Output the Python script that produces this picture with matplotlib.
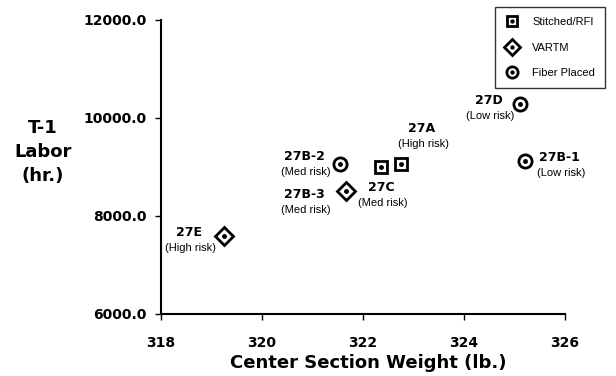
import matplotlib
matplotlib.use("Agg")
import matplotlib.pyplot as plt

plt.rcParams['font.family'] = ['Liberation Sans', 'DejaVu Sans']
WIDE = ['DejaVu Sans']

# Data
stitched_x = [322.35, 322.75]
stitched_y = [8990, 9050]
vartm_x = [319.25, 321.66]
vartm_y = [7600, 8500]
fiber_x = [321.54, 325.11, 325.22]
fiber_y = [9060, 10290, 9120]

point_names = ["27A", "27C", "27E", "27B-3", "27B-2", "27D", "27B-1"]
point_risk = ["(High risk)", "(Med risk)", "(High risk)", "(Med risk)", "(Med risk)", "(Low risk)", "(Low risk)"]
point_x = [322.75, 322.35, 319.25, 321.66, 321.54, 325.11, 325.22]
point_y = [9050, 8990, 7600, 8500, 9060, 10290, 9120]
# label offsets in pixels (dx, dy of the bold name, upward positive)
label_off = [(21, 36), (1, -20), (-35, 3), (-41, -3), (-35, 7.5), (-31, 3), (34, 4)]

xticks = [318, 320, 322, 324, 326]
yticks = [6000, 8000, 10000, 12000]

fig = plt.figure(figsize=(6.16, 3.76), dpi=100)
ax = fig.add_axes([0.261, 0.165, 0.917 - 0.261, 0.947 - 0.165])

def plot_group(xs, ys, marker, ms):
    outer, = ax.plot(xs, ys, linestyle='none', marker=marker, ms=ms,
                     mfc='white', mec='black', mew=2, zorder=3)
    inner, = ax.plot(xs, ys, linestyle='none', marker='o', ms=2.5,
                     mfc='black', mec='black', zorder=4)
    return (outer, inner)

h1 = plot_group(stitched_x, stitched_y, 's', 9)
h2 = plot_group(vartm_x, vartm_y, 'D', 9)
h3 = plot_group(fiber_x, fiber_y, 'o', 9.5)

for name, risk, x, y, (dx, dy) in zip(point_names, point_risk, point_x, point_y, label_off):
    ax.annotate(name, (x, y), xytext=(dx, dy), textcoords='offset pixels',
                ha='center', va='center', fontsize=9, fontweight='bold', family=WIDE)
    ax.annotate(risk, (x, y), xytext=(dx + 1.5, dy - 15.5), textcoords='offset pixels',
                ha='center', va='center', fontsize=8)

ax.set_xlim(318, 326)
ax.set_ylim(6000, 12000)
ax.set_xticks(xticks)
ax.set_xticklabels([str(t) for t in xticks], fontsize=10, fontweight='bold', family=WIDE)
ax.set_yticks(yticks)
ax.set_yticklabels([f"{t:.1f}" for t in yticks], fontsize=10, fontweight='bold', family=WIDE)
ax.spines['top'].set_visible(False)
ax.spines['right'].set_visible(False)
ax.spines['left'].set_linewidth(1.5)
ax.spines['bottom'].set_linewidth(1.5)
ax.tick_params(direction='out', length=4, width=1)
ax.tick_params(axis='y', pad=6.5)
ax.tick_params(axis='x', pad=12)

fig.text(368 / 616, 1 - 363 / 376, "Center Section Weight (lb.)", ha='center', va='center',
         fontsize=13, fontweight='bold', family=WIDE)
fig.text(43 / 616, 1 - 152 / 376, "T-1\nLabor\n(hr.)", ha='center', va='center',
         fontsize=13, fontweight='bold', family=WIDE, linespacing=1.45)

leg = ax.legend([h1, h2, h3], ["Stitched/RFI", "VARTM", "Fiber Placed"],
                loc='upper right', bbox_to_anchor=(605 / 616, 1 - 7 / 376),
                bbox_transform=fig.transFigure, fontsize=8, frameon=True,
                fancybox=False, edgecolor='black', labelspacing=1.4, markerscale=0.85,
                handlelength=1.2, handletextpad=1.2, borderpad=0.9, borderaxespad=0)
leg.get_frame().set_linewidth(1)

fig.savefig("out.png", dpi=100)
